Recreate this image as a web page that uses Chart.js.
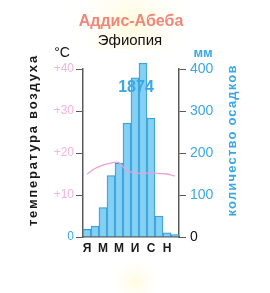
<!DOCTYPE html>
<html>
<head>
<meta charset="utf-8">
<script src="https://cdn.jsdelivr.net/npm/chart.js@4"></script>
<style>
  html, body { margin: 0; padding: 0; background: #fff; }
  #wrap { width: 270px; height: 293px; }
</style>
</head>
<body>
<div id="wrap"><canvas id="klimat" width="270" height="293"></canvas></div>
<script>
// месяцы и данные
const meses = ['Я', 'Ф', 'М', 'А', 'М', 'И', 'И', 'А', 'С', 'О', 'Н', 'Д'];
const mesesVisiveis = ['Я', '', 'М', '', 'М', '', 'И', '', 'С', '', 'Н', ''];
const osadki = [18, 26, 70, 146, 176, 271, 379, 414, 283, 50, 10, 6];
const temperatura = [15.0, 16.3, 17.1, 17.6, 17.7, 15.7, 15.3, 15.1, 15.3, 15.1, 15.0, 14.5];
const ticksTemp = [0, 10, 20, 30, 40];
const ticksOsadki = [0, 100, 200, 300, 400];
const total = '1874';

const AZUL = '#3aa8e4';
const ROSA = '#f2b3dc';
const EIXO = '#5a5a5a';

// texto com espaçamento esticado até a largura pedida
function textoEsticado(ctx, txt, x, y, largura, rot) {
  ctx.save();
  ctx.translate(x, y);
  ctx.rotate(rot);
  ctx.letterSpacing = '0px';
  const w = ctx.measureText(txt).width;
  const esp = Math.max(0, (largura - w) / txt.length);
  ctx.letterSpacing = esp + 'px';
  ctx.textAlign = 'center';
  ctx.textBaseline = 'middle';
  ctx.fillText(txt, esp / 2, 0);
  ctx.restore();
}

const textos = {
  id: 'textos',
  beforeDraw(chart) {
    const ctx = chart.ctx;
    ctx.save();
    const g = ctx.createRadialGradient(131, 24, 5, 131, 24, 70);
    g.addColorStop(0, 'rgba(255,251,222,0.9)');
    g.addColorStop(1, 'rgba(255,255,255,0)');
    ctx.fillStyle = g;
    ctx.fillRect(50, 0, 165, 50);
    const g2 = ctx.createRadialGradient(135, 282, 2, 135, 282, 30);
    g2.addColorStop(0, 'rgba(255,250,215,0.7)');
    g2.addColorStop(1, 'rgba(255,255,255,0)');
    ctx.fillStyle = g2;
    ctx.fillRect(95, 262, 80, 31);
    ctx.restore();
  },
  afterDraw(chart) {
    const ctx = chart.ctx;
    ctx.save();
    ctx.textAlign = 'center';
    ctx.textBaseline = 'middle';

    ctx.fillStyle = '#f0877a';
    ctx.font = 'bold 16px "Liberation Sans", Arial, sans-serif';
    ctx.fillText('Аддис-Абеба', 131, 22);

    ctx.fillStyle = '#111';
    ctx.font = '15px "Liberation Sans", Arial, sans-serif';
    ctx.fillText('Эфиопия', 130, 41);

    ctx.font = '14px "Liberation Sans", Arial, sans-serif';
    ctx.fillText('°C', 62, 53);

    ctx.fillStyle = AZUL;
    ctx.font = 'bold 13px "Liberation Sans", Arial, sans-serif';
    ctx.fillText('мм', 203, 53);

    ctx.fillStyle = AZUL;
    ctx.font = 'bold 16px "Liberation Sans", Arial, sans-serif';
    ctx.fillText(total, 136, 88);

    ctx.fillStyle = '#1a1a1a';
    ctx.font = 'bold 13px "Liberation Sans", Arial, sans-serif';
    textoEsticado(ctx, 'температура воздуха', 33, 141, 172, -Math.PI / 2);

    ctx.fillStyle = AZUL;
    textoEsticado(ctx, 'количество осадков', 232, 141, 152, -Math.PI / 2);
    ctx.restore();
  }
};

new Chart(document.getElementById('klimat'), {
  type: 'bar',
  data: {
    labels: meses,
    datasets: [
      {
        type: 'line',
        label: 'температура',
        data: temperatura,
        yAxisID: 'yT',
        borderColor: '#e9a0d6',
        borderWidth: 1.3,
        pointRadius: 0,
        tension: 0.4,
        order: 0
      },
      {
        label: 'осадки',
        data: osadki,
        yAxisID: 'yP',
        backgroundColor: 'rgba(120, 204, 242, 0.9)',
        borderColor: '#2f98d6',
        borderWidth: 1,
        barPercentage: 1,
        categoryPercentage: 1,
        clip: false,
        order: 1
      }
    ]
  },
  options: {
    responsive: false,
    animation: false,
    layout: { padding: { top: 69 } },
    plugins: {
      legend: { display: false },
      title: { display: false },
      tooltip: { enabled: false }
    },
    scales: {
      x: {
        offset: true,
        grid: { display: false, drawTicks: false },
        border: { display: true, color: EIXO, width: 1.5 },
        ticks: {
          autoSkip: false,
          maxRotation: 0,
          padding: 4,
          color: '#1a1a1a',
          font: { family: '"Liberation Sans", Arial, sans-serif', size: 12, weight: 'bold' },
          callback: (v, i) => mesesVisiveis[i]
        },
        afterFit: s => { s.height = 56; }
      },
      yT: {
        position: 'left',
        min: 0,
        max: 40,
        afterBuildTicks: s => { s.ticks = ticksTemp.map(v => ({ value: v })); },
        grid: { drawOnChartArea: false, tickLength: 7, color: EIXO },
        border: { color: EIXO, width: 1.5 },
        ticks: {
          padding: 2,
          color: c => c.tick && c.tick.value === 0 ? AZUL : ROSA,
          font: { family: '"Liberation Sans", Arial, sans-serif', size: 12 },
          callback: v => v === 0 ? '0' : '+' + v
        },
        afterFit: s => { s.width = 83; }
      },
      yP: {
        position: 'right',
        min: 0,
        max: 400,
        afterBuildTicks: s => { s.ticks = ticksOsadki.map(v => ({ value: v })); },
        grid: { drawOnChartArea: false, tickLength: 7, color: EIXO },
        border: { color: EIXO, width: 1.5 },
        ticks: {
          padding: 4,
          color: c => c.tick && c.tick.value === 0 ? '#111' : AZUL,
          font: { family: '"Liberation Sans", Arial, sans-serif', size: 14 }
        },
        afterFit: s => { s.width = 91; }
      }
    }
  },
  plugins: [textos]
});
</script>
</body>
</html>
